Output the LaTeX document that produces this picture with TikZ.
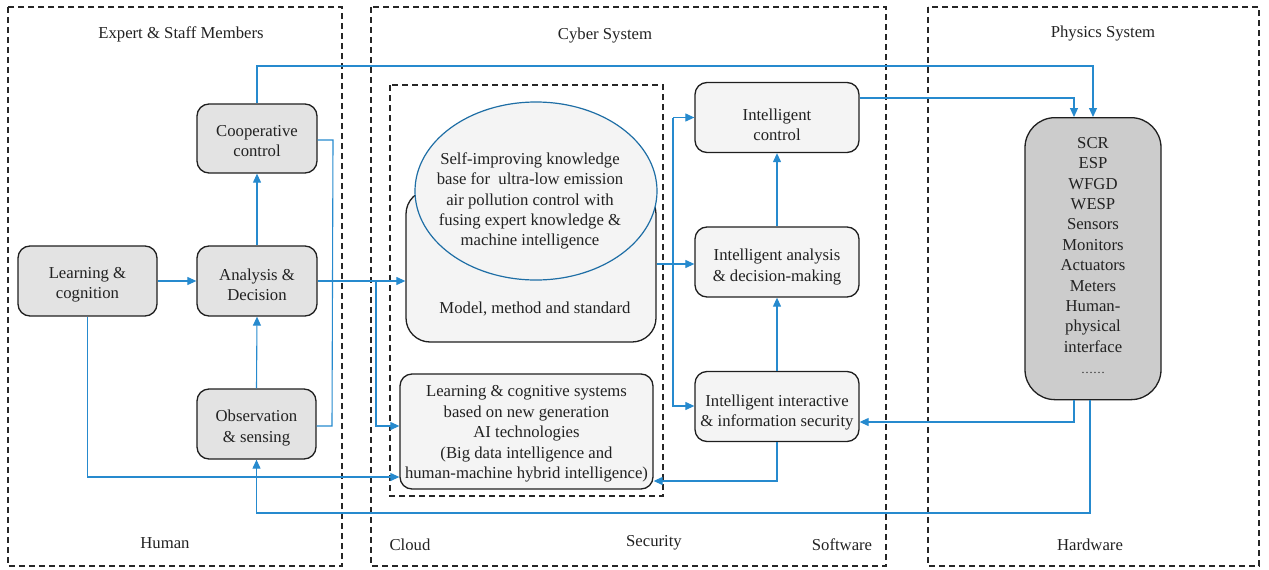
\documentclass[tikz,border=0pt]{standalone}
\usepackage{fontspec}
\setmainfont{Liberation Serif}
\usetikzlibrary{arrows.meta,calc,shapes.geometric}
\definecolor{wireblue}{RGB}{38,138,206}
\definecolor{inkgray}{RGB}{34,34,34}
\begin{document}
\begin{tikzpicture}[x=1pt,y=-1pt,
  font=\fontsize{16.7}{20.4}\selectfont,
  text=inkgray,
  region/.style={draw=black!85, dash pattern=on 6pt off 4pt, line width=1.4pt},
  hbox/.style={draw=black!88, line width=1.3pt, rounded corners=12pt, fill=gray!22, inner sep=0pt},
  cbox/.style={hbox, fill=gray!9},
  pbox/.style={hbox, rounded corners=30pt, fill=gray!40},
  wire/.style={draw=wireblue, line width=1.1pt},
  arr/.style={wire, -{Triangle[length=9pt,width=8pt]}},
  lbl/.style={inner sep=0pt, anchor=center, align=center}]
\useasboundingbox (0,0) rectangle (1269,570);

% regions
\draw[region] (8,7) rectangle (342,566);
\draw[region] (371,7) rectangle (886,566);
\draw[region] (928,7) rectangle (1259,566);
\draw[region] (390,85) rectangle (663,496);

% region labels
\node[lbl] (tHuman) at (181,34) {Expert \& Staff Members};
\node[lbl] (tCyber) at (605,36) {Cyber System};
\node[lbl] (tPhys) at (1103,34) {Physics System};
\node[lbl] (bHuman) at (165,543) {Human};
\node[lbl] (bCloud) at (410,545) {Cloud};
\node[lbl] (bSec) at (654,543) {Security};
\node[lbl] (bSoft) at (842,545) {Software};
\node[lbl] (bHard) at (1090,545) {Hardware};

% human side
\node[hbox, minimum width=120pt, minimum height=69pt] (coop) at (257,138.5) {};
\node[lbl] (coopT) at (257,141) {Cooperative\\control};
\node[hbox, minimum width=139pt, minimum height=70pt] (learn) at (87.5,281) {};
\node[lbl] (learnT) at (87.5,285) {Learning \&\\cognition};
\node[hbox, minimum width=120pt, minimum height=70pt] (anal) at (257,281) {};
\node[lbl] (analT) at (257,284.5) {Analysis \&\\Decision};
\node[hbox, minimum width=119pt, minimum height=70pt] (obs) at (256.5,424) {};
\node[lbl] (obsT) at (256.5,428) {Observation\\\& sensing};

% knowledge base
\node[cbox, rounded corners=24pt, minimum width=250pt, minimum height=152pt] (kb) at (531,266) {};
\node[ellipse, draw=wireblue!80!black, line width=1.2pt, fill=gray!9,
  minimum width=242pt, minimum height=178pt, inner sep=0pt] (kbell) at (536,191) {};
\node[lbl] (kbtext) at (530,201) {Self-improving knowledge\\base for\ \ ultra-low emission\\air pollution control with\\fusing expert knowledge \&\\machine intelligence};
\node[lbl] (kbmodel) at (535,309) {Model, method and standard};

\node[cbox, minimum width=253pt, minimum height=115pt] (lcs) at (526.5,431.5) {};
\node[lbl] (lcsT) at (526.5,434)
  {Learning \& cognitive systems\\based on new generation\\AI technologies\\(Big data intelligence and\\human-machine hybrid intelligence)};

% cyber side
\node[cbox, minimum width=164pt, minimum height=70pt] (ictl) at (777,117.5) {};
\node[lbl] (ictlT) at (777,125) {Intelligent\\control};
\node[cbox, minimum width=164pt, minimum height=70pt] (iana) at (777,262) {};
\node[lbl] (ianaT) at (777,267) {Intelligent analysis\\\& decision-making};
\node[cbox, minimum width=164pt, minimum height=70pt] (iint) at (777,406.5) {};
\node[lbl] (iintT) at (777,412.5) {Intelligent interactive\\\& information security};

% physical side
\node[pbox, minimum width=136pt, minimum height=282pt, anchor=north] (phys) at (1093,117) {};
\node[lbl, anchor=north] (physlist) at (1093,137)
  {SCR\\ESP\\WFGD\\WESP\\Sensors\\Monitors\\Actuators\\Meters\\Human-\\physical\\interface\\[3pt]\raisebox{2pt}{\fontsize{12}{12}\selectfont\ldots\ldots}};

% connectors: human side
\draw[arr] (learn.east) -- (anal.west);
\draw[arr] (anal.north) -- (coop.south);
\draw[arr] (obs.north) -- (anal.south);
\draw[wire] (coop.east |- 0,140) -- (333,140) -- (332,426) -- (obs.east |- 0,426);
\draw[arr] (coop.north) -- (coop.north |- 0,66) -| (phys.north);

% connectors into the knowledge base
\coordinate (split) at (376,281);
\draw[arr] (anal.east) -- (kb.west |- anal.east);
\draw[arr] (split) |- (lcs.west |- 0,426);
\draw[arr] (learn.south) -- (learn.south |- 0,477) -- (lcs.west |- 0,477);

% connectors: cyber side
\coordinate (bustop) at (673,117.5);
\draw[arr] (kb.east |- 0,264) -- (iana.west |- 0,264);
\draw[arr] (bustop) -- (ictl.west);
\draw[arr] (bustop) |- (iint.west |- 0,406);
\draw[arr] (iana.north) -- (ictl.south);
\draw[arr] (iint.north) -- (iana.south);
\draw[arr] (iint.south) |- (lcs.east |- 0,481);
\draw[arr] (ictl.east |- 0,98) -| (phys.north -| 1074,0);

% connectors: physical side
\draw[arr] (phys.south -| 1074,0) |- (iint.east |- 0,422);
\draw[arr] (phys.south -| 1090,0) -- (1090,513) -| (obs.south);
\end{tikzpicture}
\end{document}
